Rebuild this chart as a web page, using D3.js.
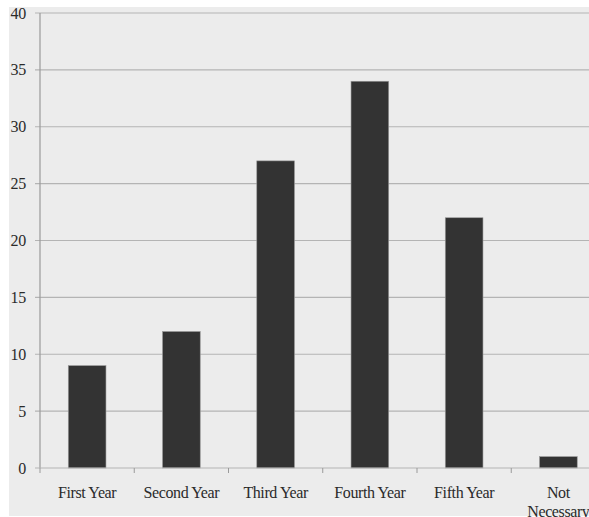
<!DOCTYPE html>
<html>
<head>
<meta charset="utf-8">
<script src="https://cdn.jsdelivr.net/npm/d3@7/dist/d3.min.js"></script>
<style>
  html, body { margin: 0; padding: 0; background: #fff; overflow: hidden; }
  svg { display: block; }
</style>
</head>
<body>
<svg id="chart" width="589" height="517"></svg>
<script>
// Data
const categories = ["First Year", "Second Year", "Third Year", "Fourth Year", "Fifth Year", "Not Necessary"];
const values = [9, 12, 27, 34, 22, 1];
const yTicks = [0, 5, 10, 15, 20, 25, 30, 35, 40];

const svg = d3.select("#chart");
const W = 589, H = 517;
const plotLeft = 40, plotTop = 13, plotBottom = 468, plotRight = 605.5;
const font = "'Liberation Serif', 'Times New Roman', serif";

// panel background
svg.append("rect").attr("x", 9).attr("y", 7).attr("width", W - 9).attr("height", H - 8)
  .attr("fill", "#ececec");

const x = d3.scaleBand().domain(categories).range([plotLeft, plotRight]).paddingInner(0.6).paddingOuter(0.3);
const xb = d3.scaleBand().domain(categories).range([plotLeft, plotRight]);
const y = d3.scaleLinear().domain([0, 40]).range([plotBottom, plotTop]);

// gridlines with left tick stubs
svg.append("g").selectAll("line").data(yTicks.filter(d => d > 0)).join("line")
  .attr("x1", plotLeft - 5).attr("x2", W).attr("y1", d => y(d)).attr("y2", d => y(d))
  .attr("stroke", "#b4b4b4").attr("stroke-width", 1.2);

// y axis line
svg.append("line").attr("x1", plotLeft).attr("x2", plotLeft).attr("y1", plotTop).attr("y2", plotBottom)
  .attr("stroke", "#9a9a9a").attr("stroke-width", 1.2);

// bars
svg.append("g").selectAll("rect").data(values).join("rect")
  .attr("x", (d, i) => x(categories[i]))
  .attr("width", x.bandwidth())
  .attr("y", d => y(d))
  .attr("height", d => y(0) - y(d))
  .attr("fill", "#333333")
  .attr("stroke", "#9a9a9a").attr("stroke-width", 0.6);

// baseline and category ticks
svg.append("line").attr("x1", plotLeft - 5).attr("x2", W).attr("y1", plotBottom).attr("y2", plotBottom)
  .attr("stroke", "#b4b4b4").attr("stroke-width", 1.2);
svg.append("g").selectAll("line").data(categories).join("line")
  .attr("x1", d => xb(d)).attr("x2", d => xb(d))
  .attr("y1", plotBottom).attr("y2", plotBottom + 5)
  .attr("stroke", "#9a9a9a").attr("stroke-width", 1);

// y tick labels
svg.append("g").selectAll("text").data(yTicks).join("text")
  .attr("x", 26).attr("y", d => y(d)).attr("dy", "0.35em")
  .attr("text-anchor", "end")
  .attr("font-family", font)
  .attr("font-size", 16).attr("fill", "#2a2a2a")
  .attr("letter-spacing", "-0.3")
  .text(d => d);

// category labels (wrapped to two lines where needed)
const labelG = svg.append("g");
categories.forEach(c => {
  const cx = xb(c) + xb.bandwidth() / 2;
  const words = c === "Not Necessary" ? ["Not", "Necessary"] : [c];
  const t = labelG.append("text")
    .attr("text-anchor", "middle")
    .attr("font-family", font)
    .attr("font-size", 16).attr("fill", "#2a2a2a")
    .attr("letter-spacing", "-0.4");
  words.forEach((w, i) => {
    t.append("tspan").attr("x", cx).attr("y", 498 + i * 19).text(w);
  });
});
</script>
</body>
</html>
